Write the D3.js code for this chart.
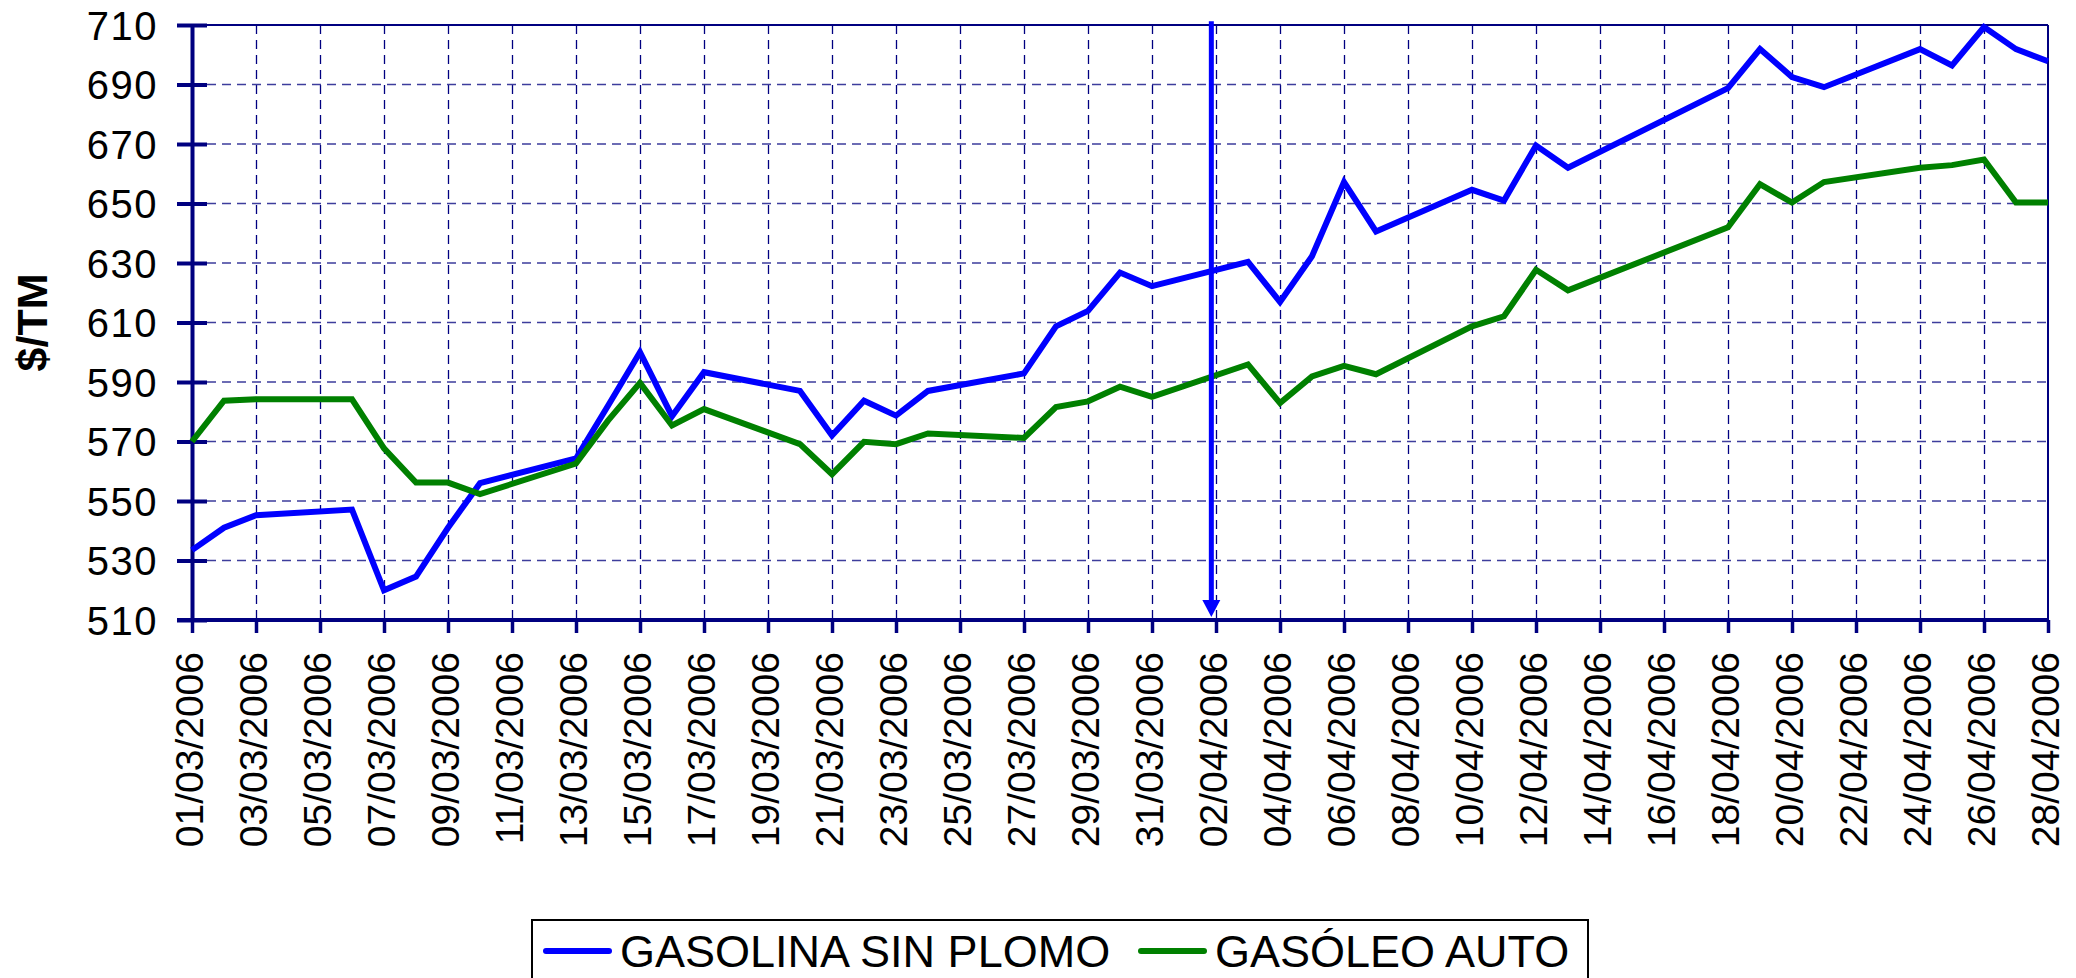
<!DOCTYPE html>
<html>
<head>
<meta charset="utf-8">
<script src="https://cdn.jsdelivr.net/npm/d3@7"></script>
<style>
  body { margin: 0; background: #fff; }
  svg { display: block; font-family: "Liberation Sans", Arial, sans-serif; }
</style>
</head>
<body>
<svg id="chart" width="2076" height="978"></svg>
<script>
// weekday quotes, March-April 2006
const dates = [
  "01/03/2006", "02/03/2006", "03/03/2006", "06/03/2006", "07/03/2006", "08/03/2006",
  "09/03/2006", "10/03/2006", "13/03/2006", "14/03/2006", "15/03/2006", "16/03/2006",
  "17/03/2006", "20/03/2006", "21/03/2006", "22/03/2006", "23/03/2006", "24/03/2006",
  "27/03/2006", "28/03/2006", "29/03/2006", "30/03/2006", "31/03/2006", "03/04/2006",
  "04/04/2006", "05/04/2006", "06/04/2006", "07/04/2006", "10/04/2006", "11/04/2006",
  "12/04/2006", "13/04/2006", "18/04/2006", "19/04/2006", "20/04/2006", "21/04/2006",
  "24/04/2006", "25/04/2006", "26/04/2006", "27/04/2006", "28/04/2006"
];
const gasolina = [
  533.5, 541, 545.2, 547.1, 520, 524.6,
  541, 556, 564.3, 582, 600, 578.5,
  593.3, 587, 572, 583.7, 578.7, 587,
  592.9, 608.7, 613.9, 626.8, 622.2, 630.4,
  616.9, 632.3, 657.2, 640.6, 654.6, 651,
  669.5, 662, 688.8, 701.9, 692.5, 689.1,
  701.9, 696.4, 709.3, 701.9, 697.8
];
const gasoleo = [
  570, 583.7, 584.2, 584.2, 567.7, 556.2,
  556.2, 552.3, 562.6, 577, 589.7, 575.4,
  580.9, 569.1, 559, 569.9, 569.1, 572.7,
  571.2, 581.6, 583.5, 588.4, 585, 595.9,
  582.9, 591.9, 595.4, 592.6, 608.7, 612.1,
  627.7, 620.8, 642, 656.5, 650.3, 657.2,
  662, 662.9, 664.8, 650.3, 650.3
];
const seriesNames = ["GASOLINA SIN PLOMO", "GASÓLEO AUTO"];
const seriesColors = ["#0000ff", "#008000"];
const yTicks = [510, 530, 550, 570, 590, 610, 630, 650, 670, 690, 710];
const xStart = "01/03/2006", xEnd = "28/04/2006";
// the arrow marker drawn just before 02/04/2006
const arrowDate = "01/04/2006 20:30", arrowTop = 711.3, arrowBottom = 511;

const parse = d3.timeParse("%d/%m/%Y");
const parseHM = d3.timeParse("%d/%m/%Y %H:%M");
const fmt = d3.timeFormat("%d/%m/%Y");

const margin = { top: 25, right: 28, bottom: 358, left: 192 },
  width = 2076 - margin.left - margin.right,
  height = 978 - margin.top - margin.bottom;

const svg = d3.select("#chart");
const g = svg.append("g").attr("transform", `translate(${margin.left},${margin.top})`);

const x = d3.scaleTime().domain([parse(xStart), parse(xEnd)]).range([0, width]);
const y = d3.scaleLinear().domain([510, 710]).range([height, 0]);

const xTicks = d3.timeDay.range(parse(xStart), d3.timeDay.offset(parse(xEnd), 1), 2);

const navy = "#000080";

// dashed grid
g.append("g")
  .selectAll("line")
  .data(xTicks.slice(1, -1))
  .join("line")
  .attr("x1", (d) => Math.round(x(d)) + 0.5)
  .attr("x2", (d) => Math.round(x(d)) + 0.5)
  .attr("y1", 0)
  .attr("y2", height)
  .attr("stroke", navy)
  .attr("stroke-width", 1.3)
  .attr("stroke-dasharray", "9,6");

g.append("g")
  .selectAll("line")
  .data(yTicks.slice(1, -1))
  .join("line")
  .attr("x1", 0)
  .attr("x2", width)
  .attr("y1", (d) => y(d))
  .attr("y2", (d) => y(d))
  .attr("stroke", "#3d3d9c")
  .attr("stroke-width", 1.3)
  .attr("stroke-dasharray", "9,6");

// frame top/right
g.append("line").attr("x1", 0).attr("x2", width).attr("y1", 0).attr("y2", 0)
  .attr("stroke", navy).attr("stroke-width", 2);
g.append("line").attr("x1", width).attr("x2", width).attr("y1", 0).attr("y2", height)
  .attr("stroke", navy).attr("stroke-width", 2);

// y axis: ticks cross the line
const yAxis = d3.axisLeft(y).tickValues(yTicks).tickSizeInner(15).tickSizeOuter(0).tickPadding(20);
const yg = g.append("g").call(yAxis);
yg.select(".domain").attr("stroke", navy).attr("stroke-width", 4);
yg.selectAll(".tick line").attr("stroke", navy).attr("stroke-width", 4).attr("x2", 15).attr("x1", -15);
yg.selectAll(".tick text")
  .attr("fill", "#000")
  .attr("font-size", 40)
  .attr("letter-spacing", 1.5)
  .attr("x", -34)
  .attr("dy", "0.36em")
  .style("font-family", "'Liberation Sans', Arial, sans-serif");

// x axis
const xAxis = d3.axisBottom(x).tickValues(xTicks).tickFormat(fmt).tickSizeInner(13).tickSizeOuter(0);
const xg = g.append("g").attr("transform", `translate(0,${height})`).call(xAxis);
xg.select(".domain").attr("stroke", navy).attr("stroke-width", 4).attr("d", `M-15,0H${width}`);
xg.selectAll(".tick line").attr("stroke", navy).attr("stroke-width", 3.5);
xg.selectAll(".tick text")
  .attr("fill", "#000")
  .attr("font-size", 39)
  .attr("text-anchor", "end")
  .attr("transform", "translate(0,32) rotate(-90)")
  .attr("x", 0)
  .attr("y", 0)
  .attr("dy", "0.26em")
  .style("font-family", "'Liberation Sans', Arial, sans-serif");

// y title
svg.append("text")
  .attr("transform", `translate(47,${margin.top + height / 2}) rotate(-90)`)
  .attr("text-anchor", "middle")
  .attr("font-size", 43)
  .attr("font-weight", "bold")
  .text("$/TM");

// series lines
const rows = dates.map((d, i) => ({ date: parse(d), v: [gasolina[i], gasoleo[i]] }));
const line = (k) => d3.line().x((d) => x(d.date)).y((d) => y(d.v[k]));

[0, 1].forEach((k) => {
  g.append("path")
    .datum(rows)
    .attr("fill", "none")
    .attr("stroke", seriesColors[k])
    .attr("stroke-width", 6)
    .attr("stroke-linejoin", "miter")
    .attr("stroke-miterlimit", 4)
    .attr("d", line(k));
});

// arrow annotation
const ax = x(parseHM(arrowDate));
g.append("line")
  .attr("x1", ax).attr("x2", ax)
  .attr("y1", y(arrowTop)).attr("y2", y(arrowBottom) - 14)
  .attr("stroke", "#0000ff").attr("stroke-width", 5);
g.append("path")
  .attr("d", `M${ax - 9},${y(arrowBottom) - 17}L${ax + 9},${y(arrowBottom) - 17}L${ax},${y(arrowBottom)}Z`)
  .attr("fill", "#0000ff");

// legend
const legend = svg.append("g").attr("transform", "translate(532,920)");
legend.append("rect")
  .attr("width", 1056).attr("height", 90)
  .attr("fill", "#fff").attr("stroke", "#000").attr("stroke-width", 2);
const legendX = [12, 607];
seriesNames.forEach((name, k) => {
  const lg = legend.append("g").attr("transform", `translate(${legendX[k]},31)`);
  lg.append("line").attr("x1", 2).attr("x2", 65).attr("y1", 0).attr("y2", 0)
    .attr("stroke", seriesColors[k]).attr("stroke-width", 6).attr("stroke-linecap", "round");
  lg.append("text").attr("x", 76).attr("y", 16).attr("font-size", 45).text(name);
});
</script>
</body>
</html>
